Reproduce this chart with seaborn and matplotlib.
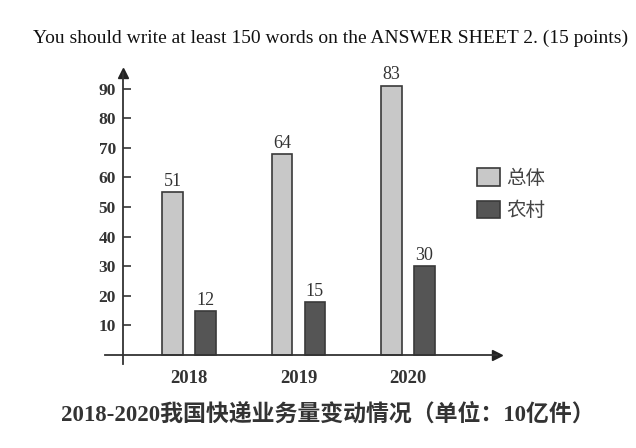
import pandas as pd
import numpy as np
import matplotlib.pyplot as plt
import seaborn as sns

# values written above the bars
years = ['2018', '2019', '2020']
total_labels = [51, 64, 83]
rural_labels = [12, 15, 30]
# bar heights as they are drawn in the picture (the scan does not match its labels)
total_drawn = [55, 68, 91]
rural_drawn = [15, 18, 30]
series = ['总体', '农村']

df = pd.DataFrame({
    'year': years * 2,
    'series': [series[0]] * 3 + [series[1]] * 3,
    'height': total_drawn + rural_drawn,
})

sns.set_theme(style='white')
plt.rcParams['font.family'] = ['Liberation Serif', 'Noto Sans CJK SC']

fig = plt.figure(figsize=(6.36, 4.48), dpi=100)
ax = fig.add_axes([0.165, 0.1875, 0.616, 0.650])

sns.barplot(data=df, x='year', y='height', hue='series', hue_order=series,
            palette={'总体': '#c8c8c8', '农村': '#555555'},
            width=0.6, gap=0.37, edgecolor='#3a3a3a', linewidth=1.2, ax=ax)

ax.set_xlim(-0.767, 2.81)
ax.set_ylim(-3, 95.3)
ax.set_xlabel('')
ax.set_ylabel('')

# value labels
for cont, labs in zip(ax.containers, [total_labels, rural_labels]):
    ax.bar_label(cont, labels=[str(v) for v in labs], padding=1.5,
                 fontsize=13, color='#333333')

# axes with arrows
for s in ['top', 'right']:
    ax.spines[s].set_visible(False)
ax.spines['left'].set_position(('data', -0.603))
ax.spines['bottom'].set_position(('data', 0))
for s in ['left', 'bottom']:
    ax.spines[s].set_color('#333333')
    ax.spines[s].set_linewidth(1.3)
ax.plot(1, 0, '>', color='#222222', markersize=7,
        transform=ax.get_yaxis_transform(), clip_on=False)
ax.plot(-0.603, 1, '^', color='#222222', markersize=7,
        transform=ax.get_xaxis_transform(), clip_on=False)

ax.set_yticks(range(10, 100, 10))
ax.tick_params(axis='y', direction='in', length=6, width=1.2, color='#333333',
               labelsize=12.5, pad=5, left=True)
ax.tick_params(axis='x', length=0, pad=11, labelsize=13.5)
for t in ax.get_yticklabels() + ax.get_xticklabels():
    t.set_fontweight('bold')
    t.set_color('#333333')

handles, labels = ax.get_legend_handles_labels()
ax.legend(handles, labels, loc='upper left', bbox_to_anchor=(0.722, 0.665),
          bbox_transform=fig.transFigure, frameon=False,
          handlelength=1.2, handleheight=1.0, handletextpad=0.3,
          labelspacing=0.6, prop={'family': 'Noto Sans CJK SC', 'size': 14})
for t in ax.get_legend().get_texts():
    t.set_color('#444444')

fig.text(33 / 636, 1 - 38 / 448,
         'You should write at least 150 words on the ANSWER SHEET 2. (15 points)',
         ha='left', va='center', fontsize=14.0, color='#111111')
fig.text(328 / 636, 1 - 415 / 448,
         '2018-2020我国快递业务量变动情况（单位：10亿件）',
         ha='center', va='center', fontsize=16.5, fontweight='bold', color='#333333')

fig.savefig('out.png', dpi=100, facecolor='white')
